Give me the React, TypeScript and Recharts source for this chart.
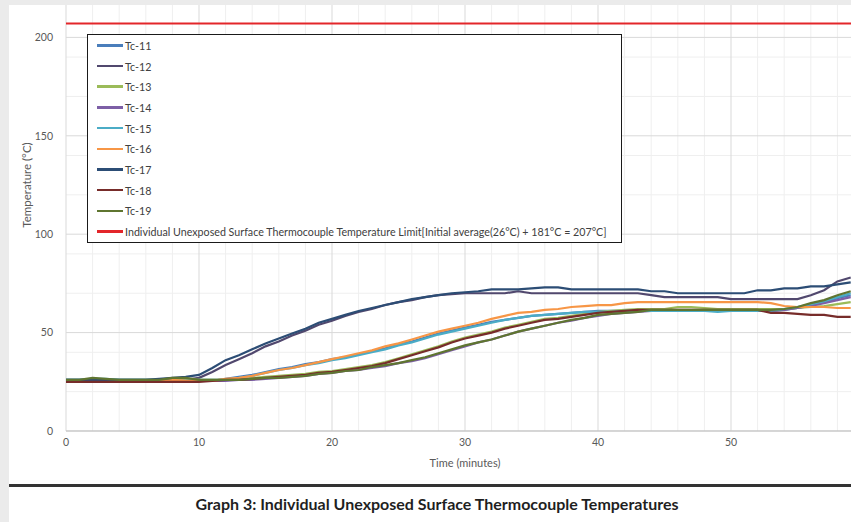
import React from 'react';
import { LineChart, Line, XAxis, YAxis, CartesianGrid, ReferenceLine } from 'recharts';

// time in minutes
const minutes = [
  0, 1, 2, 3, 4, 5, 6, 7, 8, 9,
  10, 11, 12, 13, 14, 15, 16, 17, 18, 19,
  20, 21, 22, 23, 24, 25, 26, 27, 28, 29,
  30, 31, 32, 33, 34, 35, 36, 37, 38, 39,
  40, 41, 42, 43, 44, 45, 46, 47, 48, 49,
  50, 51, 52, 53, 54, 55, 56, 57, 58, 59,
];

const tc11 = [
  26, 26, 26, 26, 26, 26, 26, 26, 26.5, 26,
  25.5, 25.5, 26.5, 27.5, 28.5, 30, 31.5, 32.5, 34, 35,
  36.5, 37.5, 39, 40.5, 42, 44, 45.5, 47.5, 49.5, 51,
  52.5, 54, 55.5, 56.5, 57.5, 58.5, 59, 59.5, 60, 60.5,
  61, 61, 61, 61, 61, 61, 61, 61, 61, 61,
  61, 61, 61, 61, 61.5, 62.5, 64, 65.5, 67.5, 69,
];
const tc12 = [
  25.5, 25.5, 25.5, 25.5, 25.5, 25.5, 25.5, 25.5, 26, 26,
  27, 30, 33.5, 36.5, 39.5, 43, 45.5, 48.5, 51, 54,
  56, 58.5, 60.5, 62, 64, 65.5, 66.5, 68, 69, 69.5,
  70, 70, 70, 70, 71, 70, 70, 70, 70, 70,
  70, 70, 70, 70, 69, 68, 68, 68, 68, 68,
  67, 67, 67, 67, 67, 67, 69, 71.5, 76, 78,
];
const tc13 = [
  26, 26, 26, 26, 26, 26, 26, 26, 26.5, 26.5,
  26, 26, 26, 26.5, 27, 27.5, 28, 28.5, 29, 30,
  30.5, 31.5, 32.5, 33.5, 35, 37, 39, 41, 43, 45.5,
  47.5, 49, 50.5, 52.5, 54, 55.5, 57, 57.5, 58.5, 59.5,
  60.5, 61, 61.5, 62, 62, 62, 63, 63, 62.5, 62,
  62, 62, 62, 62, 62, 62.5, 63, 63.5, 64.5, 65.5,
];
const tc14 = [
  25.5, 25.5, 25.5, 25.5, 25.5, 25.5, 25.5, 25.5, 25.5, 25.5,
  25.5, 25.5, 25.5, 26, 26, 26.5, 27, 27.5, 28, 29,
  29.5, 30.5, 31, 32, 33, 34.5, 35.5, 37, 39, 41,
  43, 45, 46.5, 48.5, 50.5, 52, 53.5, 55, 56, 57.5,
  58.5, 59.5, 60, 60.5, 61, 61, 61, 61, 61, 61,
  61, 61, 61, 61, 61.5, 62.5, 63.5, 65, 66.5, 68,
];
const tc15 = [
  26, 26, 26.5, 26.5, 26, 26, 26, 26, 25, 25.5,
  26, 26, 26, 27, 28, 29.5, 31, 32, 33.5, 34.5,
  36, 37, 38.5, 40, 41.5, 43.5, 45, 47, 49, 50.5,
  52, 53.5, 55, 56.5, 57.5, 58.5, 59, 59.5, 60, 60.5,
  60.5, 60.5, 61, 61, 61, 61, 61, 61, 61, 60.5,
  61, 61, 61, 61, 62, 63, 64.5, 66, 68, 70,
];
const tc16 = [
  25.5, 25.5, 25.5, 25.5, 25.5, 25.5, 25.5, 25.5, 26, 25.5,
  25.5, 25.5, 26.5, 27, 28, 29.5, 31, 32, 33.5, 35,
  36.5, 38, 39.5, 41, 43, 44.5, 46.5, 48.5, 50.5, 52,
  53.5, 55, 57, 58.5, 60, 60.5, 61.5, 62, 63, 63.5,
  64, 64, 65, 65.5, 65.5, 65.5, 65.5, 65.5, 65.5, 65.5,
  65.5, 65.5, 65.5, 65, 63.5, 63, 63, 63, 62.5, 62.5,
];
const tc17 = [
  26, 26, 26, 26, 26, 26, 26, 26.5, 27, 27.5,
  28.5, 32, 36, 38.5, 41.5, 44.5, 47, 49.5, 52, 55,
  57, 59, 61, 62.5, 64, 65.5, 67, 68, 69, 70,
  70.5, 71, 72, 72, 72, 72.5, 73, 73, 72, 72,
  72, 72, 72, 72, 71, 71, 70, 70, 70, 70,
  70, 70, 71.5, 71.5, 72.5, 72.5, 73.5, 73.5, 74.5, 75.5,
];
const tc18 = [
  25, 25, 25, 25, 25, 25, 25, 25, 25, 25,
  25, 25.5, 26, 26, 26.5, 27, 27.5, 28, 28.5, 29.5,
  30, 31, 32, 33, 34.5, 36.5, 38.5, 40.5, 42.5, 45,
  47, 48.5, 50, 52, 53.5, 55, 56.5, 57, 58, 59,
  60, 60.5, 61, 61.5, 61.5, 61.5, 61.5, 61.5, 61.5, 61.5,
  61.5, 61.5, 61.5, 60, 60, 59.5, 59, 59, 58, 58,
];
const tc19 = [
  26, 26, 27, 26.5, 26, 26, 26, 26, 27, 27,
  26, 26, 26, 26, 26.5, 27, 27, 27.5, 28, 29,
  29.5, 30.5, 31, 32.5, 33.5, 34.5, 36, 37.5, 39.5, 41.5,
  43.5, 45, 46.5, 48.5, 50.5, 52, 53.5, 55, 56.5, 57.5,
  59, 59.5, 60, 60.5, 61.5, 61.5, 61.5, 61.5, 61.5, 61.5,
  61.5, 61.5, 61.5, 61.5, 62, 63, 65, 66.5, 69, 71,
];

const seriesNames = ['Tc-11', 'Tc-12', 'Tc-13', 'Tc-14', 'Tc-15', 'Tc-16', 'Tc-17', 'Tc-18', 'Tc-19'];
const seriesValues = [tc11, tc12, tc13, tc14, tc15, tc16, tc17, tc18, tc19];
const seriesColors = ['#4A7EBB', '#51486E', '#9BBB59', '#7D5FA6', '#4BACC6', '#F79646', '#2C4D75', '#772C2A', '#5F7530'];

const limitValue = 207;
const limitName =
  'Individual Unexposed Surface Thermocouple Temperature Limit[Initial average(26°C) + 181°C = 207°C]';
const limitColor = '#E3262A';

// labelled ticks (the 60 min / 250 °C ones fall outside the cropped picture)
const xTicks = [0, 10, 20, 30, 40, 50];
const yTicks = [0, 50, 100, 150, 200];
const xMajor = [0, 10, 20, 30, 40, 50, 60];
const yMajor = [0, 50, 100, 150, 200, 250];
const xMinor = [2, 4, 6, 8, 12, 14, 16, 18, 22, 24, 26, 28, 32, 34, 36, 38, 42, 44, 46, 48, 52, 54, 56, 58];
const yMinor = [10, 20, 30, 40, 60, 70, 80, 90, 110, 120, 130, 140, 160, 170, 180, 190, 210, 220, 230, 240];

const data = minutes.map((t, i) => {
  const row: Record<string, number> = { t };
  seriesNames.forEach((name, s) => {
    row[name] = seriesValues[s][i];
  });
  return row;
});

const font = 'Lato, "Open Sans", sans-serif';

// boxed legend drawn over the plot, like the Excel original
const LegendBox = () => {
  const items = seriesNames
    .map((name, i) => ({ name, color: seriesColors[i] }))
    .concat([{ name: limitName, color: limitColor }]);
  return (
    <div
      style={{
        position: 'absolute',
        left: 78,
        top: 29,
        width: 533,
        height: 207,
        border: '1.5px solid #1a1a1a',
        background: '#fff',
        fontFamily: font,
        fontSize: 10.7,
        color: '#404040',
      }}
    >
      {items.map((it) => (
        <div key={it.name} style={{ height: 20.7, display: 'flex', alignItems: 'center' }}>
          <div style={{ width: 26, height: 2.5, background: it.color, marginLeft: 9, marginRight: 2 }} />
          <span style={{ whiteSpace: 'nowrap' }}>{it.name}</span>
        </div>
      ))}
    </div>
  );
};

export default function App() {
  return (
    <div
      style={{
        position: 'absolute',
        left: 0,
        top: 0,
        width: 851,
        height: 522,
        background: '#ebebeb',
        overflow: 'hidden',
      }}
    >
      <div
        style={{
          position: 'absolute',
          left: 9,
          top: 5,
          width: 842,
          height: 517,
          background: '#fff',
          overflow: 'hidden',
        }}
      >
        <div style={{ position: 'absolute', left: -9, top: -76 }}>
          <LineChart width={880} height={542} data={data} margin={{ top: 10, right: 16, bottom: 0, left: 16 }}>
            <CartesianGrid stroke="#efefef" horizontalValues={yMinor} verticalValues={xMinor} />
            <CartesianGrid stroke="#d9d9d9" horizontalValues={yMajor} verticalValues={xMajor} />
            <XAxis
              dataKey="t"
              type="number"
              domain={[0, 60]}
              ticks={xTicks}
              tickLine={false}
              axisLine={{ stroke: '#bfbfbf' }}
              tick={{ fill: '#595959', fontSize: 10.5, fontFamily: font }}
              height={40}
              label={{
                value: 'Time (minutes)',
                position: 'insideBottom',
                offset: 4,
                style: { fill: '#595959', fontSize: 11, fontFamily: font },
              }}
            />
            <YAxis
              type="number"
              domain={[0, 250]}
              ticks={yTicks}
              tickLine={false}
              axisLine={false}
              tickMargin={7}
              width={50}
              tick={{ fill: '#595959', fontSize: 10.5, fontFamily: font }}
              label={{
                value: 'Temperature (°C)',
                angle: -90,
                position: 'insideLeft',
                offset: 11,
                style: { fill: '#595959', fontSize: 11.5, fontFamily: font, textAnchor: 'middle' },
              }}
            />
            <ReferenceLine y={limitValue} stroke={limitColor} strokeWidth={2} />
            {seriesNames.map((name, i) => (
              <Line
                key={name}
                type="linear"
                dataKey={name}
                stroke={seriesColors[i]}
                strokeWidth={2.2}
                dot={false}
                isAnimationActive={false}
              />
            ))}
          </LineChart>
        </div>
        <LegendBox />
        <div
          style={{
            position: 'absolute',
            left: 0,
            top: 479,
            width: 842,
            height: 3,
            background: '#333',
          }}
        />
        <div
          style={{
            position: 'absolute',
            left: 0,
            top: 489,
            width: 856,
            textAlign: 'center',
            fontFamily: font,
            fontWeight: 700,
            fontSize: 16,
            color: '#1f1f1f',
          }}
        >
          Graph 3: Individual Unexposed Surface Thermocouple Temperatures
        </div>
      </div>
    </div>
  );
}
